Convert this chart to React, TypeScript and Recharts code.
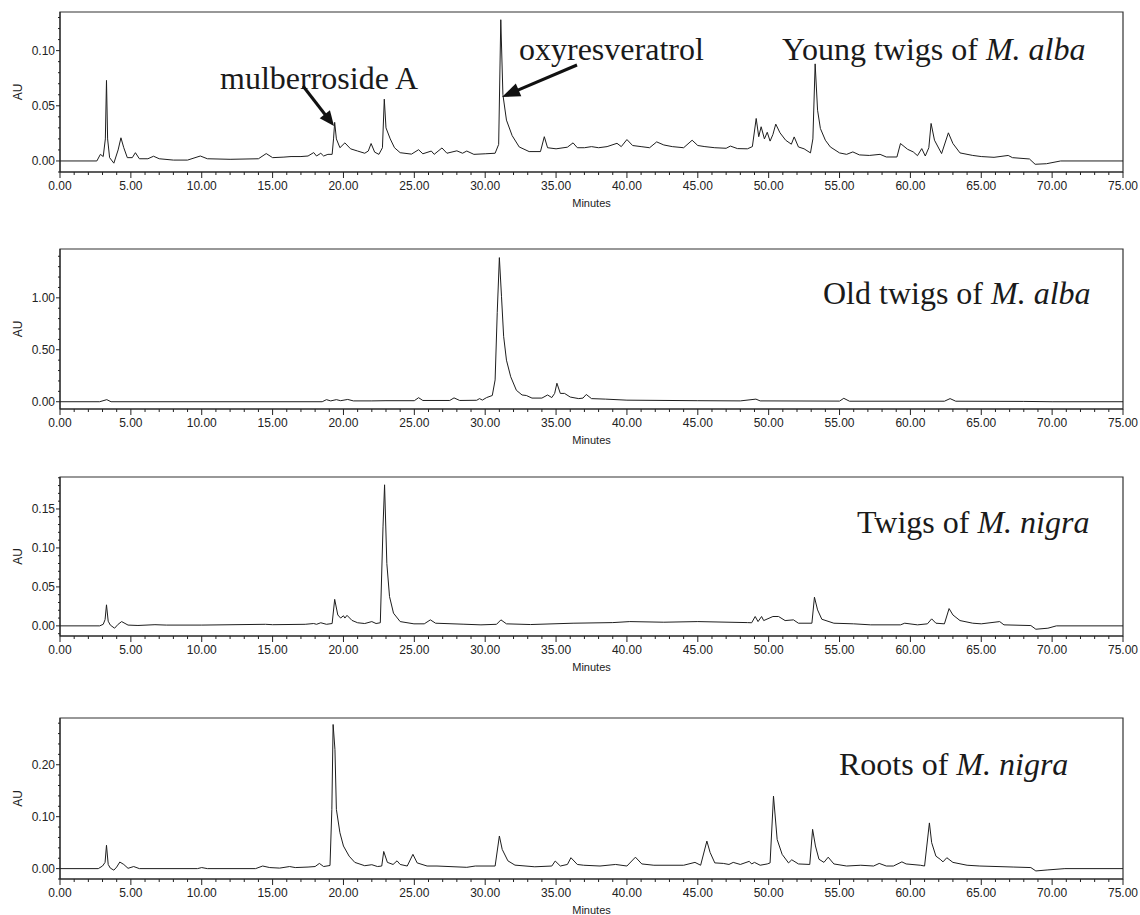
import React from 'react';
import { LineChart, Line, XAxis, YAxis, ReferenceArea, Label } from 'recharts';

// retention time (min) / absorbance (AU)
const youngTime = [0, 2.6, 2.85, 3.05, 3.2, 3.28, 3.36, 3.5, 3.8, 4.1, 4.3, 4.5, 4.75, 5.1, 5.32, 5.6, 6.2, 6.6, 7.0, 8.0, 9.0, 9.9, 10.4, 12.0, 14.0, 14.55, 15.0, 15.8, 16.3, 17.0, 17.5, 17.9, 18.1, 18.4, 18.6, 18.9, 19.2, 19.3, 19.38, 19.5, 19.75, 20.1, 20.5, 21.0, 21.5, 21.75, 21.95, 22.2, 22.5, 22.75, 22.88, 23.0, 23.3, 23.6, 24.0, 24.8, 25.3, 25.6, 26.2, 26.4, 26.95, 27.3, 28.0, 28.4, 28.7, 29.2, 30.0, 30.7, 30.95, 31.1, 31.25, 31.5, 31.9, 32.4, 33.1, 33.9, 34.17, 34.4, 35.0, 35.8, 36.2, 36.5, 37.0, 37.5, 38.0, 38.6, 39.3, 39.6, 40.0, 40.4, 41.0, 41.6, 42.1, 42.6, 43.2, 44.0, 44.6, 45.0, 45.5, 46.2, 47.0, 47.3, 47.8, 48.5, 48.85, 49.12, 49.3, 49.47, 49.7, 49.9, 50.1, 50.3, 50.5, 50.8, 51.2, 51.6, 51.8, 52.1, 52.5, 52.95, 53.12, 53.28, 53.45, 53.65, 54.0, 54.35, 55.0, 55.5, 55.94, 56.4, 57.1, 57.86, 58.3, 59.05, 59.3, 59.8, 60.2, 60.5, 60.8, 61.05, 61.3, 61.46, 61.7, 62.2, 62.68, 63.0, 63.5, 64.4, 65.0, 65.9, 66.9, 67.2, 68.4, 68.8, 69.6, 70.6, 75];
const youngAU = [0, 0, 0.006, 0.004, 0.02, 0.073, 0.02, 0.003, -0.002, 0.01, 0.021, 0.012, 0.003, 0.003, 0.0075, 0.002, 0.002, 0.0043, 0.002, 0.0008, 0.0008, 0.0045, 0.002, 0.0015, 0.002, 0.0067, 0.003, 0.0035, 0.004, 0.004, 0.0045, 0.0076, 0.0045, 0.007, 0.0045, 0.006, 0.006, 0.02, 0.035, 0.02, 0.012, 0.0164, 0.011, 0.009, 0.007, 0.009, 0.0158, 0.008, 0.006, 0.012, 0.056, 0.03, 0.02, 0.012, 0.0075, 0.0062, 0.0102, 0.0065, 0.009, 0.006, 0.0118, 0.007, 0.0092, 0.007, 0.009, 0.006, 0.0065, 0.007, 0.015, 0.128, 0.06, 0.037, 0.023, 0.0127, 0.0085, 0.0085, 0.022, 0.012, 0.011, 0.0125, 0.0164, 0.012, 0.012, 0.013, 0.012, 0.013, 0.016, 0.013, 0.0194, 0.014, 0.013, 0.012, 0.0173, 0.0145, 0.013, 0.012, 0.0188, 0.014, 0.013, 0.012, 0.0115, 0.0135, 0.0112, 0.011, 0.013, 0.0385, 0.022, 0.031, 0.02, 0.026, 0.018, 0.024, 0.0334, 0.0255, 0.0188, 0.0152, 0.0218, 0.0127, 0.011, 0.0073, 0.02, 0.088, 0.046, 0.0294, 0.0188, 0.0127, 0.0073, 0.006, 0.0082, 0.0055, 0.005, 0.006, 0.0036, 0.0036, 0.0158, 0.0106, 0.0082, 0.0048, 0.0112, 0.0045, 0.012, 0.034, 0.0188, 0.0067, 0.0255, 0.0158, 0.0073, 0.005, 0.004, 0.0033, 0.005, 0.003, 0.0018, -0.003, -0.0025, 0, 0];

const oldTime = [0, 2.8, 3.3, 3.6, 18.5, 18.8, 19.1, 19.5, 19.8, 20.3, 20.7, 22, 23, 25.0, 25.3, 25.6, 27.5, 27.8, 28.2, 29.4, 29.6, 29.8, 30.1, 30.5, 30.7, 30.85, 31.0, 31.15, 31.3, 31.5, 31.8, 32.2, 32.6, 32.9, 33.3, 34.0, 34.4, 34.7, 34.9, 35.06, 35.3, 35.6, 36.0, 36.6, 36.9, 37.13, 37.5, 38.5, 40, 45, 48, 49.1, 49.4, 55.0, 55.3, 55.7, 62.4, 62.8, 63.2, 68, 70, 75];
const oldAU = [0, 0, 0.02, 0, 0, 0.02, 0.008, 0.02, 0.01, 0.022, 0.008, 0.008, 0.01, 0.01, 0.039, 0.012, 0.012, 0.037, 0.012, 0.014, 0.03, 0.016, 0.04, 0.06, 0.21, 0.86, 1.387, 1.015, 0.63, 0.4, 0.24, 0.11, 0.065, 0.06, 0.035, 0.035, 0.065, 0.04, 0.08, 0.178, 0.08, 0.08, 0.045, 0.03, 0.035, 0.07, 0.03, 0.025, 0.015, 0.01, 0.008, 0.025, 0.008, 0.006, 0.033, 0.005, 0.005, 0.03, 0.005, 0.003, 0, 0];

const twigsTime = [0, 2.8, 3.05, 3.18, 3.28, 3.4, 3.55, 3.85, 4.1, 4.35, 4.8, 5.5, 6.7, 7.5, 10, 14.5, 15, 17.3, 17.9, 18.1, 18.4, 18.8, 19.2, 19.38, 19.6, 19.8, 20.0, 20.1, 20.25, 20.6, 21.0, 21.5, 22.0, 22.3, 22.6, 22.79, 22.9, 23.06, 23.25, 23.53, 24.0, 24.97, 25.7, 26.13, 26.5, 28.5, 29.7, 30.8, 31.11, 31.5, 33.2, 36.2, 39.0, 40.2, 42.6, 45, 48.5, 48.8, 49.05, 49.25, 49.5, 49.65, 50.3, 50.7, 51.16, 51.75, 52.1, 53.05, 53.23, 53.45, 53.75, 54.6, 56.0, 57.2, 59.3, 59.6, 60.5, 61.2, 61.5, 61.8, 62.4, 62.73, 63.0, 63.5, 64.4, 65.0, 66.3, 66.6, 68.5, 68.85, 69.7, 70.3, 75];
const twigsAU = [0, 0, 0.002, 0.008, 0.027, 0.006, 0.001, -0.003, 0.002, 0.0055, 0.001, 0.0005, 0.0015, 0.001, 0.001, 0.002, 0.0015, 0.002, 0.003, 0.002, 0.004, 0.002, 0.003, 0.034, 0.014, 0.01, 0.013, 0.01, 0.0135, 0.007, 0.004, 0.003, 0.0055, 0.003, 0.004, 0.127, 0.181, 0.08, 0.0376, 0.0163, 0.0055, 0.0026, 0.0026, 0.0077, 0.0034, 0.0021, 0.0013, 0.002, 0.0077, 0.0026, 0.0017, 0.0034, 0.0042, 0.0055, 0.0047, 0.0055, 0.0042, 0.004, 0.012, 0.0055, 0.012, 0.0068, 0.012, 0.012, 0.0068, 0.0077, 0.0034, 0.0034, 0.0368, 0.0205, 0.0085, 0.0034, 0.0026, 0.0013, 0.0013, 0.0034, 0.0013, 0.0026, 0.009, 0.0034, 0.0026, 0.0222, 0.014, 0.0068, 0.0034, 0.0026, 0.0055, 0.0013, 0.0004, -0.0043, -0.003, 0, 0];

const rootsTime = [0, 2.7, 3.0, 3.18, 3.28, 3.4, 3.55, 3.8, 4.0, 4.22, 4.5, 4.8, 5.2, 5.6, 9.7, 10.0, 10.4, 13.8, 14.3, 14.8, 15.5, 16.2, 16.6, 17.5, 18.0, 18.3, 18.6, 19.05, 19.18, 19.27, 19.4, 19.5, 19.75, 20.0, 20.4, 20.8, 21.5, 22.0, 22.4, 22.7, 22.84, 23.1, 23.5, 23.78, 24.0, 24.5, 24.9, 25.2, 25.9, 26.6, 28.7, 29.3, 30.7, 31.0, 31.2, 31.6, 32.1, 33.5, 34.7, 34.94, 35.3, 35.8, 36.05, 36.5, 36.95, 38.1, 39.2, 40.0, 40.6, 41.05, 41.9, 44.0, 44.8, 45.2, 45.64, 45.87, 46.2, 46.8, 47.2, 47.5, 48.0, 48.63, 48.8, 49.0, 49.4, 49.9, 50.1, 50.34, 50.6, 50.95, 51.4, 51.63, 52.1, 52.9, 53.1, 53.3, 53.55, 53.9, 54.2, 54.6, 55.5, 56.5, 57.4, 57.8, 58.3, 58.8, 59.4, 59.7, 60.7, 61.0, 61.34, 61.5, 61.8, 62.1, 62.3, 62.57, 63.0, 64.0, 64.9, 67.3, 68.5, 68.85, 69.7, 70.9, 75];
const rootsAU = [0, 0, 0.005, 0.012, 0.045, 0.008, 0.001, -0.003, 0.003, 0.0127, 0.008, 0.0006, 0.004, 0, 0, 0.002, 0, 0, 0.005, 0.002, 0.001, 0.004, 0.002, 0.003, 0.004, 0.01, 0.004, 0.006, 0.114, 0.2775, 0.229, 0.114, 0.069, 0.0435, 0.024, 0.012, 0.0056, 0.0075, 0.004, 0.005, 0.033, 0.012, 0.008, 0.015, 0.008, 0.005, 0.0275, 0.011, 0.005, 0.005, 0.0025, 0.005, 0.005, 0.0628, 0.037, 0.015, 0.0067, 0.0035, 0.005, 0.0146, 0.005, 0.008, 0.021, 0.008, 0.0065, 0.005, 0.008, 0.005, 0.022, 0.009, 0.0065, 0.0065, 0.012, 0.0065, 0.053, 0.031, 0.011, 0.01, 0.008, 0.012, 0.008, 0.014, 0.009, 0.012, 0.0065, 0.009, 0.011, 0.1396, 0.056, 0.0275, 0.011, 0.017, 0.009, 0.008, 0.0756, 0.0436, 0.018, 0.012, 0.022, 0.009, 0.005, 0.0065, 0.005, 0.01, 0.005, 0.005, 0.013, 0.009, 0.0065, 0.005, 0.088, 0.05, 0.024, 0.018, 0.013, 0.021, 0.012, 0.0065, 0.005, 0.003, 0.002, -0.0045, -0.0025, 0, 0];

// axis tick labels
const xMajor = [0, 5, 10, 15, 20, 25, 30, 35, 40, 45, 50, 55, 60, 65, 70, 75];
const youngMajor = [0, 0.05, 0.1];
const oldMajor = [0, 0.5, 1.0];
const twigsMajor = [0, 0.05, 0.1, 0.15];
const rootsMajor = [0, 0.1, 0.2];

const steps = (from: number, to: number, step: number) => {
  const out: number[] = [];
  const n = Math.round((to - from) / step);
  for (let i = 0; i <= n; i++) out.push(Math.round((from + i * step) * 10000) / 10000);
  return out;
};

const xTicks = steps(0, 75, 1);

const SANS = '"Liberation Sans", Arial, sans-serif';
const SERIF = '"Liberation Serif", "Times New Roman", serif';
const INK = '#222';

const XTick = (props: any) => {
  const { x, y, payload } = props;
  const v = payload.value;
  const major = xMajor.includes(v);
  return (
    <g>
      <line x1={x} x2={x} y1={y} y2={y + (major ? 6 : 3)} stroke={INK} strokeWidth={1} />
      {major && (
        <text x={x} y={y + 18} textAnchor="middle" fontSize={12} fontFamily={SANS} fill={INK}>
          {v.toFixed(2)}
        </text>
      )}
    </g>
  );
};

const makeYTick = (majors: number[]) => (props: any) => {
  const { x, y, payload } = props;
  const v = payload.value;
  const major = majors.some((m) => Math.abs(m - v) < 1e-6);
  return (
    <g>
      <line x1={x} x2={x - (major ? 4 : 2)} y1={y} y2={y} stroke={INK} strokeWidth={1} />
      {major && (
        <text x={x - 5} y={y} dy="0.36em" textAnchor="end" fontSize={12} fontFamily={SANS} fill={INK}>
          {v.toFixed(2)}
        </text>
      )}
    </g>
  );
};

const MinutesLabel = (props: any) => {
  const vb = props.viewBox || {};
  return (
    <text x={vb.x + vb.width / 2} y={vb.y + 35} textAnchor="middle" fontSize={11} fontFamily={SANS} fill={INK}>
      Minutes
    </text>
  );
};

const AULabel = (props: any) => {
  const vb = props.viewBox || {};
  const cx = vb.x + 18;
  const cy = vb.y + vb.height / 2;
  return (
    <text x={cx} y={cy} dy="0.36em" textAnchor="middle" fontSize={12} fontFamily={SANS} fill={INK} transform={`rotate(-90 ${cx} ${cy})`}>
      AU
    </text>
  );
};

type PanelProps = {
  top: number;
  plotHeight: number;
  time: number[];
  au: number[];
  domain: [number, number];
  yTicks: number[];
  majors: number[];
};

const Panel: React.FC<PanelProps> = ({ top, plotHeight, time, au, domain, yTicks, majors }) => {
  const data = time.map((t, i) => ({ t, v: au[i] }));
  return (
    <div style={{ position: 'absolute', left: 0, top }}>
      <LineChart width={1140} height={plotHeight + 38} data={data} margin={{ top: 2, right: 17, bottom: 0, left: 0 }}>
        <XAxis
          type="number"
          dataKey="t"
          domain={[0, 75]}
          ticks={xTicks}
          interval={0}
          tickLine={false}
          tickSize={0}
          tickMargin={0}
          tick={XTick}
          height={36}
          axisLine={{ stroke: INK }}
        >
          <Label content={MinutesLabel} />
        </XAxis>
        <YAxis
          type="number"
          domain={domain}
          ticks={yTicks}
          interval={0}
          tickLine={false}
          tickSize={0}
          tickMargin={0}
          tick={makeYTick(majors)}
          width={60}
          axisLine={{ stroke: INK }}
        >
          <Label content={AULabel} />
        </YAxis>
        <ReferenceArea x1={0} x2={75} y1={domain[0]} y2={domain[1]} fill="none" stroke="#333" strokeWidth={1.2} />
        <Line type="linear" dataKey="v" stroke="#1e1e1e" strokeWidth={1} dot={false} activeDot={false} isAnimationActive={false} />
      </LineChart>
    </div>
  );
};

const arrow = (x1: number, y1: number, x2: number, y2: number, len: number, half: number) => {
  const dx = x2 - x1;
  const dy = y2 - y1;
  const d = Math.hypot(dx, dy);
  const ux = dx / d;
  const uy = dy / d;
  const bx = x2 - ux * len;
  const by = y2 - uy * len;
  const nx = -uy * half;
  const ny = ux * half;
  return (
    <g>
      <line x1={x1} y1={y1} x2={bx + ux * 2} y2={by + uy * 2} stroke="#111" strokeWidth={3} />
      <polygon points={`${x2},${y2} ${bx + nx},${by + ny} ${bx - nx},${by - ny}`} fill="#111" />
    </g>
  );
};

const App: React.FC = () => {
  return (
    <div style={{ position: 'absolute', left: 0, top: 0, width: 1140, height: 915, background: '#fff' }}>
      <Panel top={10} plotHeight={160} time={youngTime} au={youngAU} domain={[-0.01, 0.135]} yTicks={steps(-0.01, 0.13, 0.01)} majors={youngMajor} />
      <Panel top={247} plotHeight={160} time={oldTime} au={oldAU} domain={[-0.07, 1.47]} yTicks={steps(0, 1.4, 0.1)} majors={oldMajor} />
      <Panel top={475} plotHeight={159} time={twigsTime} au={twigsAU} domain={[-0.013, 0.191]} yTicks={steps(-0.01, 0.19, 0.01)} majors={twigsMajor} />
      <Panel top={716} plotHeight={161} time={rootsTime} au={rootsAU} domain={[-0.02, 0.29]} yTicks={steps(-0.02, 0.28, 0.02)} majors={rootsMajor} />
      <svg width={1140} height={915} style={{ position: 'absolute', left: 0, top: 0, pointerEvents: 'none' }}>
        <g fontFamily={SERIF} fontSize={32} fill="#1a1a1a">
          <text x={220} y={89}>mulberroside A</text>
          <text x={519} y={60}>oxyresveratrol</text>
          <text x={782} y={60}>
            Young twigs of <tspan fontStyle="italic">M. alba</tspan>
          </text>
          <text x={823} y={304}>
            Old twigs of <tspan fontStyle="italic">M. alba</tspan>
          </text>
          <text x={857} y={533}>
            Twigs of <tspan fontStyle="italic">M. nigra</tspan>
          </text>
          <text x={839} y={775}>
            Roots of <tspan fontStyle="italic">M. nigra</tspan>
          </text>
        </g>
        {arrow(303, 86, 334, 126, 15, 6.5)}
        {arrow(577, 65, 502, 97, 18, 7)}
      </svg>
    </div>
  );
};

export default App;
